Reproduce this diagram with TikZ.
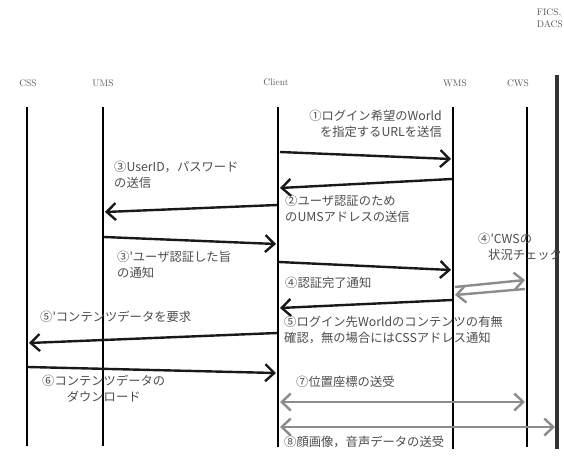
\documentclass[tikz,border=0pt]{standalone}
\usepackage{fontspec}
\newfontfamily\jp{Noto Sans CJK JP}
\usetikzlibrary{arrows.meta}
\tikzset{
  life/.style={line width=2.6pt, black},
  flife/.style={line width=3.4pt, black!80},
  msg/.style={line width=2.4pt, black!90, -{Straight Barb[length=9pt,width=17pt,line width=2.4pt]}},
  gmsg/.style={line width=2.4pt, black!45, {Straight Barb[length=9pt,width=17pt,line width=2.4pt]}-{Straight Barb[length=9pt,width=17pt,line width=2.4pt]}},
  gone/.style={line width=2.4pt, black!45, -{Straight Barb[length=9pt,width=17pt,line width=2.4pt]}},
  lbl/.style={font=\jp\fontsize{12.3}{15.5}\selectfont, text=black!70, inner sep=0pt, align=left},
  hdr/.style={font=\fontsize{9.5}{12}\selectfont, text=black!65, inner sep=0pt}
}
\begin{document}
\begin{tikzpicture}[x=1pt,y=-1pt]
\useasboundingbox (0,0) rectangle (564,460);
% headers
\node[hdr] (hcss) at (28,83) {CSS};
\node[hdr] (hums) at (103,83) {UMS};
\node[hdr] (hcli) at (276,82) {Client};
\node[hdr] (hwms) at (455,83) {WMS};
\node[hdr] (hcws) at (518,83) {CWS};
\node[hdr, anchor=north east, align=left] (hfics) at (563,9) {FICS,\\DACS};
% lifelines
\coordinate (cssT) at (27,107);  \coordinate (cssB) at (27,446);
\coordinate (umsT) at (103,107); \coordinate (umsB) at (103,446);
\coordinate (cliT) at (278,107); \coordinate (cliB) at (278,447);
\coordinate (wmsT) at (453,107); \coordinate (wmsB) at (453,449);
\coordinate (cwsT) at (527,107); \coordinate (cwsB) at (527,447);
\coordinate (ficT) at (557,75);  \coordinate (ficB) at (557,449);
\draw[life] (cssT) -- (cssB);
\draw[life] (umsT) -- (umsB);
\draw[life] (cliT) -- (cliB);
\draw[life] (wmsT) -- (wmsB);
\draw[life] (cwsT) -- (cwsB);
\draw[flife] (ficT) -- (ficB);
% message end points
\coordinate (m1s) at (280,152); \coordinate (m1e) at (451,159);
\coordinate (m2s) at (452,179); \coordinate (m2e) at (280,188);
\coordinate (m3s) at (277,205); \coordinate (m3e) at (105,212);
\coordinate (m4s) at (104,237); \coordinate (m4e) at (276,244);
\coordinate (m5s) at (279,262); \coordinate (m5e) at (451,270);
\coordinate (m6s) at (452,300); \coordinate (m6e) at (280,308);
\coordinate (m7s) at (277,333); \coordinate (m7e) at (29,343);
\coordinate (m8s) at (28,367);  \coordinate (m8e) at (276,373);
\coordinate (c1s) at (455,287); \coordinate (c1e) at (525,280);
\coordinate (c2s) at (525,289); \coordinate (c2e) at (455,295);
\coordinate (g1s) at (280,402); \coordinate (g1e) at (525,402);
\coordinate (g2s) at (280,427); \coordinate (g2e) at (555,427);
\draw[msg] (m1s) -- (m1e);
\draw[msg] (m2s) -- (m2e);
\draw[msg] (m3s) -- (m3e);
\draw[msg] (m4s) -- (m4e);
\draw[msg] (m5s) -- (m5e);
\draw[msg] (m6s) -- (m6e);
\draw[msg] (m7s) -- (m7e);
\draw[msg] (m8s) -- (m8e);
\draw[gone] (c1s) -- (c1e);
\draw[gone] (c2s) -- (c2e);
\draw[gmsg] (g1s) -- (g1e);
\draw[gmsg] (g2s) -- (g2e);
% labels
\node[lbl, align=right, anchor=north east] (l1) at (442,110) {①ログイン希望のWorld\\を指定するURLを送信};
\node[lbl, anchor=north west] (l2) at (285,195) {②ユーザ認証のため\\のUMSアドレスの送信};
\node[lbl, anchor=north west] (l3) at (114,161) {③UserID，パスワード\\の送信};
\node[lbl, anchor=north west] (l4) at (117,251) {③'ユーザ認証した旨\\の通知};
\node[lbl, anchor=north west] (l5) at (285,277) {④認証完了通知};
\node[lbl, anchor=north west] (l6) at (478,233) {④'CWSの\\\hspace*{10pt}状況チェック};
\node[lbl, anchor=north west] (l7) at (284,316) {⑤ログイン先Worldのコンテンツの有無\\確認，無の場合にはCSSアドレス通知};
\node[lbl, anchor=north west] (l8) at (40,311) {⑤'コンテンツデータを要求};
\node[lbl, align=center, anchor=north west] (l9) at (42,375) {⑥コンテンツデータの\\ダウンロード};
\node[lbl, anchor=north west] (l10) at (296,376) {⑦位置座標の送受};
\node[lbl, anchor=north west] (l11) at (284,436) {⑧顔画像，音声データの送受};
\end{tikzpicture}
\end{document}
